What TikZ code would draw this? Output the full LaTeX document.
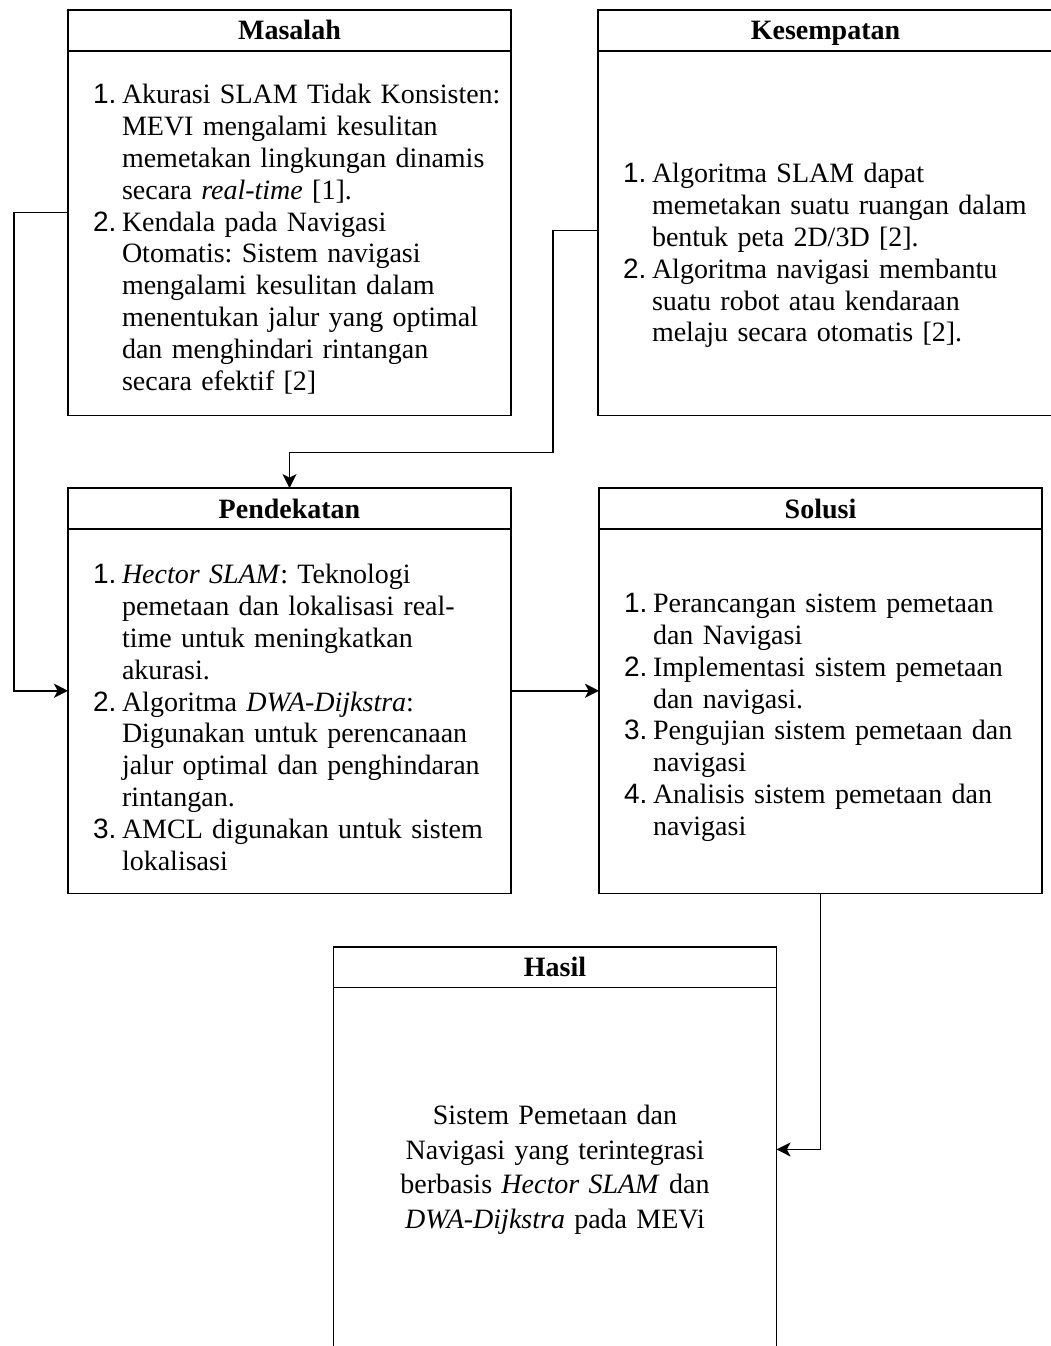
\documentclass[tikz,border=0pt]{standalone}
\usepackage{fontspec}
\setmainfont{Liberation Serif}
\setsansfont{Liberation Sans}
\usepackage{enumitem}
\setlist[enumerate]{label={\sffamily\arabic*.},leftmargin=25pt,labelwidth=14.5pt,labelsep=0pt,align=left,topsep=0pt,partopsep=0pt,itemsep=0pt,parsep=0pt}
\usetikzlibrary{arrows.meta,positioning,calc}
\frenchspacing

\begin{document}
\begin{tikzpicture}[
	x=0.5pt,y=-0.5pt,
	>={Stealth[length=7pt,width=7pt,inset=1.8pt]},
	line width=0.8pt,
	headbox/.style={
		draw,
		outer sep=0pt,
		inner sep=0pt,
		minimum width=221.5pt,
		minimum height=20.4pt,
		text height=9.6pt,
		text depth=0pt,
		font=\fontsize{14}{16}\selectfont\bfseries
	},
	listbox/.style={
		draw,
		outer sep=0pt,
		inner xsep=2pt,
		inner ysep=0pt,
		text width=217.5pt,
		minimum height=182.3pt,
		align=left,
		font=\fontsize{14}{15.9}\selectfont
	}
	]
	
	\useasboundingbox (0,0) rectangle (1051,1346);
	
	\node[headbox] (masT) at (289.5,30.35) {Masalah};
	\node[listbox,below=0pt of masT] (mas) {%
		\begin{enumerate}
			\item Akurasi SLAM Tidak Konsisten:\\ MEVI mengalami kesulitan\\ memetakan lingkungan dinamis\\ secara \textit{real-time} [1].
			\item Kendala pada Navigasi\\ Otomatis: Sistem navigasi\\ mengalami kesulitan dalam\\ menentukan jalur yang optimal\\ dan menghindari rintangan\\ secara efektif [2]
		\end{enumerate}};
	
	\node[headbox,minimum width=227.5pt,right=43.5pt of masT] (kesT) {Kesempatan};
	\node[listbox,text width=223.5pt,below=0pt of kesT] (kes) {%
		\vspace*{16.5pt}
		\begin{enumerate}
			\item Algoritma SLAM dapat\\ memetakan suatu ruangan dalam\\ bentuk peta 2D/3D [2].
			\item Algoritma navigasi membantu\\ suatu robot atau kendaraan\\ melaju secara otomatis [2].
		\end{enumerate}};
	
	\node[headbox,below=36.35pt of mas] (penT) {Pendekatan};
	\node[listbox,below=0pt of penT] (pen) {%
		\begin{enumerate}
			\item \textit{Hector SLAM}: Teknologi\\ pemetaan dan lokalisasi real-\\ time untuk meningkatkan\\ akurasi.
			\item Algoritma \textit{DWA-Dijkstra}:\\ Digunakan untuk perencanaan\\ jalur optimal dan penghindaran\\ rintangan.
			\item AMCL digunakan untuk sistem\\ lokalisasi
		\end{enumerate}};
	
	\node[headbox,right=44pt of penT] (solT) {Solusi};
	\node[listbox,below=0pt of solT] (sol) {%
		\begin{enumerate}
			\item Perancangan sistem pemetaan\\ dan Navigasi
			\item Implementasi sistem pemetaan\\ dan navigasi.
			\item Pengujian sistem pemetaan dan\\ navigasi
			\item Analisis sistem pemetaan dan\\ navigasi
		\end{enumerate}};
	
	\coordinate (mid) at ($(pen.south east)!0.5!(sol.south west)$);
	\node[headbox,below=26.65pt of mid] (hasT) {Hasil};
	\node[listbox,align=center,font=\fontsize{14}{17.2}\selectfont,below=0pt of hasT] (has)
	{Sistem Pemetaan dan\\ Navigasi yang terintegrasi\\ berbasis \textit{Hector SLAM} dan\\ \textit{DWA-Dijkstra} pada MEVi};
	
	\draw[->] ($(masT.north west)!0.5!(mas.south west)$) -- ++(-54,0) |- ($(penT.north west)!0.5!(pen.south west)$);
	\draw[->] ([yshift=1.25pt]kes.west) -- ++(-45,0) |- ([yshift=17.85pt]penT.north) -- (penT.north);
	\draw[->] ($(penT.north east)!0.5!(pen.south east)$) -- ($(solT.north west)!0.5!(sol.south west)$);
	\draw[->] (sol.south) |- ($(hasT.north east)!0.5!(has.south east)$);
	
\end{tikzpicture}
\end{document}
